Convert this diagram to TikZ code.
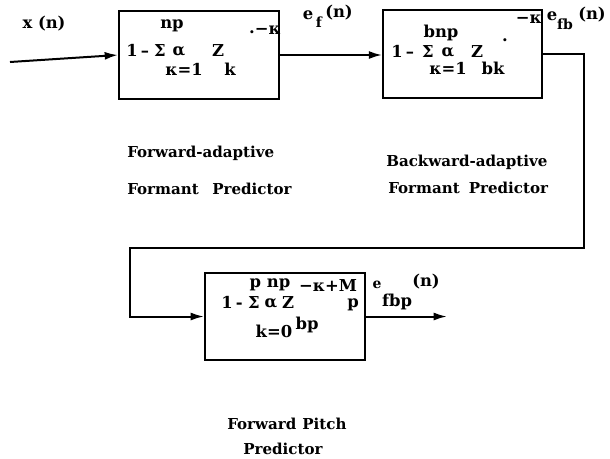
\documentclass[tikz,border=0pt]{standalone}
\usepackage{fontspec}
\setmainfont{DejaVu Serif}
\usetikzlibrary{arrows.meta}
\begin{document}
\begin{tikzpicture}[x=0.75pt,y=-0.75pt,
  blk/.style={draw,line width=1.5pt,inner sep=0pt},
  wire/.style={line width=1.5pt},
  arr/.style={wire,-{Latex[length=10pt,width=6pt]}},
  t/.style={inner sep=0pt,font=\fontsize{12.3}{14}\selectfont\bfseries},
  s/.style={inner sep=0pt,font=\fontsize{10.5}{12}\selectfont\bfseries},
  lab/.style={inner sep=0pt,anchor=west,font=\fontsize{11.3}{13}\selectfont\bfseries}]
\useasboundingbox (0,0) rectangle (610,458);
% blocks
\node[blk,minimum width=120pt,minimum height=66pt] (b1) at (199,55) {};
\node[blk,minimum width=119pt,minimum height=66pt] (b2) at (462.5,54) {};
\node[blk,minimum width=120pt,minimum height=65pt] (b3) at (285,316.5) {};
% connectors
\coordinate (in) at (10,62);
\coordinate (c1) at (584,248);
\coordinate (c2) at (130,248);
\coordinate (out) at (447,0);
\draw[arr] (in) -- (b1.west);
\draw[arr] (b1.east) -- (b1.east -| b2.west);
\draw[arr] (b2.east) -- (b2.east -| c1) -- (c1) -- (c2) -- (c2 |- b3.west) -- (b3.west);
\draw[arr] (b3.east) -- (b3.east -| out);
% signal labels
\node[t] (xn) at (44,24) {x (n)};
\node[t] (ef1) at (308,15) {e};
\node[s] (ef2) at (319,22) {f};
\node[t] (ef3) at (339,13) {(n)};
\node[t] (efb1) at (552,16) {e};
\node[s] (efb2) at (565,24) {fb};
\node[t] (efb3) at (592,15) {(n)};
\node[s] (efbp1) at (377,285) {e};
\node[t] (efbp2) at (397,302) {fbp};
\node[t] (efbp3) at (426,282) {(n)};
% block 1 formula
\node[t] (f1np) at (172,26) {np};
\node[t,anchor=base west] (f1one) at (126,56) {1\hspace{0.2em}–};
\node[t] (f1sig) at (160,51) {Σ};
\node[t] (f1al) at (179,51) {α};
\node[t] (f1Z) at (218,51) {Z};
\node[t] (f1dot) at (252,32) {.};
\node[t] (f1exp) at (268,30) {−κ};
\node[t] (f1k1) at (184,69) {κ=1};
\node[t] (f1k) at (230,69) {k};
% block 2 formula
\node[t] (f2np) at (441,33) {bnp};
\node[t,anchor=base west] (f2one) at (391,57) {1\hspace{0.2em}–};
\node[t] (f2sig) at (428,52) {Σ};
\node[t] (f2al) at (448,52) {α};
\node[t] (f2Z) at (477,52) {Z};
\node[t] (f2dot) at (505,40) {.};
\node[t] (f2exp) at (529,19) {−κ};
\node[t] (f2k1) at (448,68) {κ=1};
\node[t] (f2k) at (493,68) {bk};
% block 3 formula
\node[t] (f3np) at (270,285) {p np};
\node[t,anchor=base west] (f3one) at (221,308) {1\hspace{0.2em}-};
\node[t] (f3sig) at (254,303) {Σ};
\node[t] (f3al) at (271,303) {α};
\node[t] (f3Z) at (288,303) {Z};
\node[t] (f3exp) at (328,286) {−κ+M};
\node[t] (f3p) at (353,305) {p};
\node[t] (f3k0) at (274,331) {k=0};
\node[t] (f3bp) at (307,325) {bp};
% captions
\node[lab] (c1a) at (127,153) {Forward-adaptive};
\node[lab] (c1b) at (127,189) {Formant\hspace{0.9em}Predictor};
\node[lab] (c2a) at (386,162) {Backward-adaptive};
\node[lab] (c2b) at (388,188) {Formant\hspace{0.6em}Predictor};
\node[lab] (c3a) at (227,424) {Forward\hspace{0.4em}Pitch};
\node[lab] (c3b) at (243,449) {Predictor};
\end{tikzpicture}
\end{document}
